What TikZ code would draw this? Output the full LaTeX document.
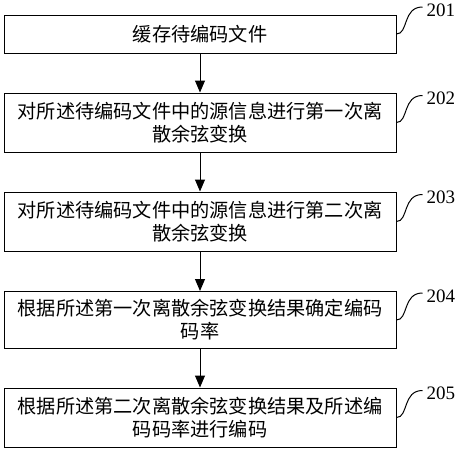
\documentclass[tikz,border=0pt]{standalone}
\usepackage{fontspec}
\setmainfont{Liberation Serif}
\newfontfamily\cjk{Noto Sans CJK SC}
\usetikzlibrary{arrows.meta}
\begin{document}
\begin{tikzpicture}[x=1pt,y=-1pt,
  stepbox/.style={draw=black,line width=1pt,minimum width=392pt,inner sep=0pt,
    align=center,font=\cjk\fontsize{19.2}{23}\selectfont},
  flow/.style={line width=1pt,-{Triangle[length=12pt,width=10pt]}},
  leader/.style={line width=1pt},
  reflabel/.style={anchor=west,inner sep=0pt,font=\fontsize{19}{19}\selectfont}]
\useasboundingbox (0,0) rectangle (458,450);
\node[stepbox,minimum height=38pt] (b1) at (200,34) {缓存待编码文件};
\node[stepbox,minimum height=59pt] (b2) at (200,122.5) {对所述待编码文件中的源信息进行第一次离\\散余弦变换};
\node[stepbox,minimum height=59pt] (b3) at (200,221.5) {对所述待编码文件中的源信息进行第二次离\\散余弦变换};
\node[stepbox,minimum height=57pt] (b4) at (200,320) {根据所述第一次离散余弦变换结果确定编码\\码率};
\node[stepbox,minimum height=59pt] (b5) at (200,417.5) {根据所述第二次离散余弦变换结果及所述编\\码码率进行编码};
\foreach \a/\b in {b1/b2,b2/b3,b3/b4,b4/b5}
  \draw[flow] (\a.south) -- (\b.north);
\foreach \b/\t in {b1/201,b2/202,b3/203,b4/204,b5/205}{
  \coordinate (e\t) at ([shift={(26,-27)}]\b.east);
  \draw[leader] (\b.east) .. controls ([shift={(12,0)}]\b.east) and ([shift={(6,-27)}]\b.east) .. (e\t);
  \node[reflabel] (l\t) at ([shift={(4,3)}]e\t) {\t};
}
\end{tikzpicture}
\end{document}
